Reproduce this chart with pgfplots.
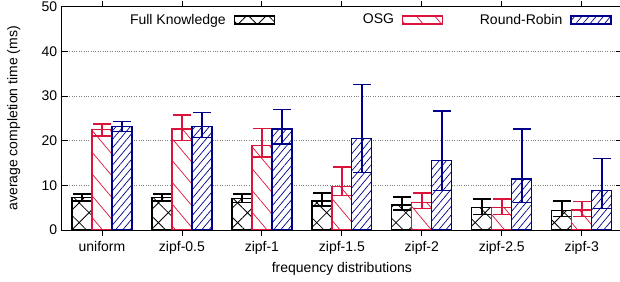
\documentclass[border=0pt]{standalone}
\usepackage{pgfplots}
\usepackage{pgfplotstable}
\pgfplotsset{compat=1.18}
\usetikzlibrary{patterns.meta}
\usepackage{fontspec}
\setmainfont{Liberation Sans}
\definecolor{osgred}{RGB}{220,20,60}
\definecolor{rrblue}{RGB}{0,0,140}
\pgfplotsset{boxlegend/.style={legend image code/.code={\draw[##1] (0bp,-4bp) rectangle (40bp,4bp);}}}

\pgfplotstableread{
x y ep em
0 7.3 0.8 0.8
1 7.3 0.8 0.8
2 7.1 0.9 0.9
3 6.5 1.8 1.1
4 5.6 1.8 1.1
5 5.0 1.9 1.5
6 4.3 2.2 1.3
}\fk
\pgfplotstableread{
x y ep em
0 22.5 1.2 1.4
1 22.6 3.1 2.6
2 18.9 3.8 2.5
3 9.7 4.4 2.0
4 6.1 2.2 1.3
5 5.0 1.9 1.5
6 4.5 1.9 1.5
}\osg
\pgfplotstableread{
x y ep em
0 23.2 1.1 1.1
1 23.2 3.1 2.5
2 22.6 4.4 3.3
3 20.5 12.1 7.6
4 15.5 11.1 6.7
5 11.4 11.2 5.2
6 8.8 7.2 4.0
}\rr

\begin{document}
\fontsize{14bp}{17bp}\selectfont
\begin{tikzpicture}
\begin{axis}[
  at={(0,0)}, anchor=south west,
  scale only axis, width=559.7bp, height=223.3bp,
  xmin=-0.5, xmax=6.5, ymin=0, ymax=50,
  xtick={0,1,2,3,4,5,6},
  xticklabels={uniform,zipf-0.5,zipf-1,zipf-1.5,zipf-2,zipf-2.5,zipf-3},
  ytick={0,10,20,30,40,50},
  tick align=inside, major tick length=6bp,
  tick style={black, line width=0.8bp},
  axis line style={black, line width=1bp},
  ymajorgrids, grid style={dotted, gray, line width=0.8bp},
  xlabel={frequency distributions},
  ylabel={average completion time (ms)},
  xlabel style={at={(axis description cs:0.5,-0.176)}, anchor=center},
  ylabel style={at={(axis description cs:-0.086,0.5)}, anchor=center},
  /pgf/number format/assume math mode=true,
  ybar, bar width=0.25,
  legend plot pos=right, legend columns=3,
  legend style={at={(0.548,0.94)}, anchor=center, draw=none, fill=none,
    nodes={inner sep=0pt},
    /tikz/every odd column/.append style={column sep=8bp},
    /tikz/every even column/.append style={column sep=19bp}},
]
\addplot[draw=black, fill=white, line width=1.3bp,
  postaction={pattern={Hatch[angle=45,distance=14bp,line width=0.8bp]}, pattern color=black},
  bar shift=-0.25, boxlegend,
  error bars/.cd, y dir=both, y explicit,
  error bar style={draw=black, line width=1.7bp},
  error mark options={rotate=90, draw=black, line width=1.6bp, mark size=9bp}]
  table[x=x,y=y,y error plus=ep,y error minus=em]{\fk};
\addlegendentry{\makebox[100bp][r]{Full Knowledge}}
\addplot[draw=osgred, fill=white, line width=1.3bp,
  postaction={pattern={Lines[angle=-50,distance=14bp,line width=0.7bp]}, pattern color=osgred},
  bar shift=0, boxlegend,
  error bars/.cd, y dir=both, y explicit,
  error bar style={draw=osgred, line width=1.7bp},
  error mark options={rotate=90, draw=osgred, line width=1.6bp, mark size=9bp}]
  table[x=x,y=y,y error plus=ep,y error minus=em]{\osg};
\addlegendentry{\makebox[100bp][r]{OSG}}
\addplot[draw=rrblue, fill=white, line width=1.3bp,
  postaction={pattern={Lines[angle=50,distance=5.5bp,line width=0.7bp]}, pattern color=rrblue},
  bar shift=0.25, boxlegend,
  error bars/.cd, y dir=both, y explicit,
  error bar style={draw=rrblue, line width=1.7bp},
  error mark options={rotate=90, draw=rrblue, line width=1.6bp, mark size=9bp}]
  table[x=x,y=y,y error plus=ep,y error minus=em]{\rr};
\addlegendentry{\makebox[100bp][r]{Round-Robin}}
\end{axis}
\pgfresetboundingbox
\useasboundingbox (-62bp,-52bp) rectangle (558bp,230bp);
\end{tikzpicture}
\end{document}
